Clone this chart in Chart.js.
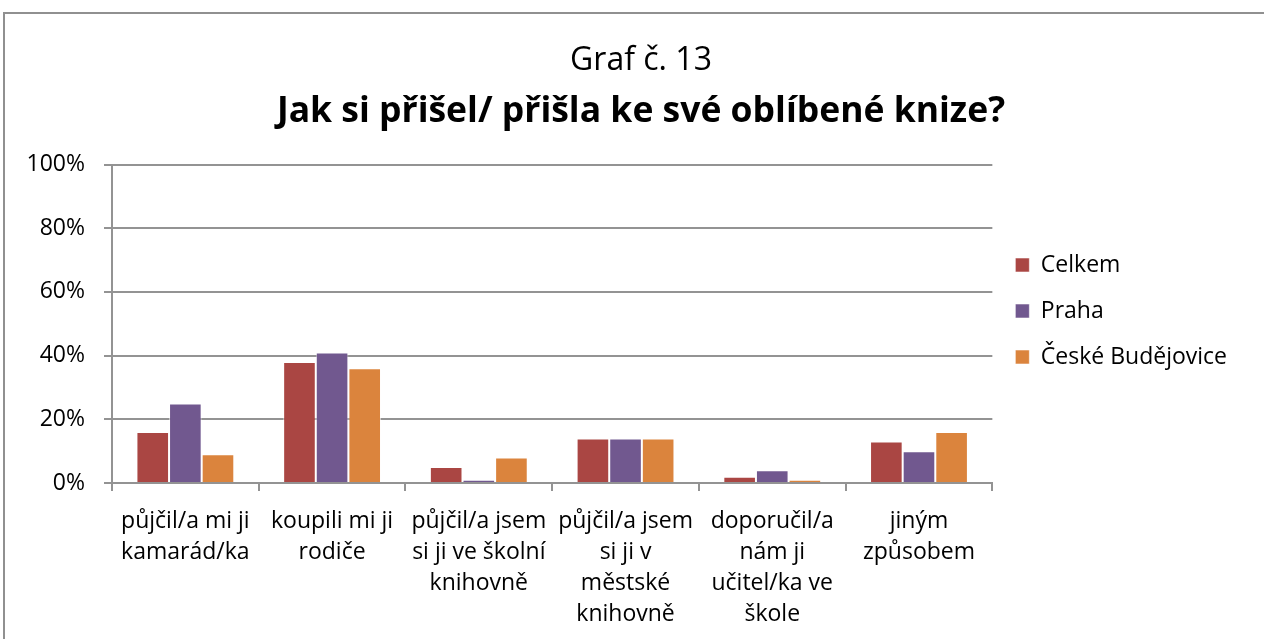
<!DOCTYPE html>
<html>
<head>
<meta charset="utf-8">
<script src="https://cdn.jsdelivr.net/npm/chart.js@4/dist/chart.umd.min.js"></script>
<style>
  body { margin: 0; background: #fff; overflow: hidden; }
  #wrap { position: relative; width: 1264px; height: 639px; }
  #frame { position: absolute; left: 3px; top: 12px; width: 1300px; height: 700px;
           border: 2px solid #909090; pointer-events: none; }
  canvas { position: absolute; left: 0; top: 0; }
</style>
</head>
<body>
<div id="wrap">
  <canvas id="chart" width="1264" height="639"></canvas>
  <div id="frame"></div>
</div>
<script>
// data (percent)
const categories = [
    ['půjčil/a mi ji', 'kamarád/ka'],
    ['koupili mi ji', 'rodiče'],
    ['půjčil/a jsem', 'si ji ve školní', 'knihovně'],
    ['půjčil/a jsem', 'si ji v', 'městské', 'knihovně'],
    ['doporučil/a', 'nám ji', 'učitel/ka ve', 'škole'],
    ['jiným', 'způsobem']
];
const celkem = [16, 38, 5, 14, 2, 13];
const praha = [25, 41, 1, 14, 4, 10];
const budejovice = [9, 36, 8, 14, 1, 16];
const yTicks = [0, 20, 40, 60, 80, 100];

const FONT = "'Open Sans', sans-serif";
const GRID = '#939393';

// tick labels are clipped to their axis box, give them room to the edges
const labelRoom = {
    id: 'labelRoom',
    afterLayout(chart) {
        chart.scales.x.bottom = chart.height;
        chart.scales.y.left = 0;
    }
};

var ctx = document.getElementById('chart').getContext('2d');
let myChart = new Chart(ctx, {
    type: 'bar',
    data: {
        labels: categories,
        datasets: [
            { label: 'Celkem', data: celkem, backgroundColor: '#AA4643' },
            { label: 'Praha', data: praha, backgroundColor: '#71588F' },
            { label: 'České Budějovice', data: budejovice, backgroundColor: '#DB843D' }
        ]
    },
    plugins: [labelRoom],
    options: {
        responsive: false,
        devicePixelRatio: 1,
        animation: false,
        datasets: {
            bar: {
                categoryPercentage: 0.667,
                barPercentage: 1,
                borderWidth: 1,
                borderColor: 'rgba(255,255,255,0.55)'
            }
        },
        layout: { padding: { left: 45, right: 27, top: 13, bottom: 30 } },
        plugins: {
            title: {
                display: true,
                text: 'Graf č. 13',
                color: '#000',
                font: { family: FONT, size: 32, weight: 'normal', lineHeight: 1 },
                padding: { top: 32, bottom: 0 }
            },
            subtitle: {
                display: true,
                text: 'Jak si přišel/ přišla ke své oblíbené knize?',
                color: '#000',
                font: { family: FONT, size: 35.5, weight: 'bold', lineHeight: 1 },
                padding: { top: 17, bottom: 35 }
            },
            legend: {
                position: 'right',
                labels: {
                    color: '#000',
                    font: { family: FONT, size: 23 },
                    boxWidth: 14,
                    boxHeight: 14,
                    padding: 23
                }
            },
            tooltip: { enabled: false }
        },
        scales: {
            x: {
                grid: { drawOnChartArea: false, color: GRID, lineWidth: 2, tickLength: 8 },
                border: { color: GRID, width: 2 },
                ticks: {
                    color: '#000',
                    padding: 15,
                    maxRotation: 0,
                    autoSkip: false,
                    font: { family: FONT, size: 23, lineHeight: 1.35 }
                },
                afterFit: s => { s.height = 126; }
            },
            y: {
                min: 0,
                max: 100,
                afterBuildTicks: s => { s.ticks = yTicks.map(v => ({ value: v })); },
                grid: { color: GRID, lineWidth: 2, tickLength: 8 },
                border: { color: GRID, width: 2 },
                ticks: {
                    color: '#000',
                    padding: 19,
                    font: { family: FONT, size: 23 },
                    callback: v => v + '%'
                },
                afterFit: s => { s.width = 67; }
            }
        }
    }
});
</script>
</body>
</html>
